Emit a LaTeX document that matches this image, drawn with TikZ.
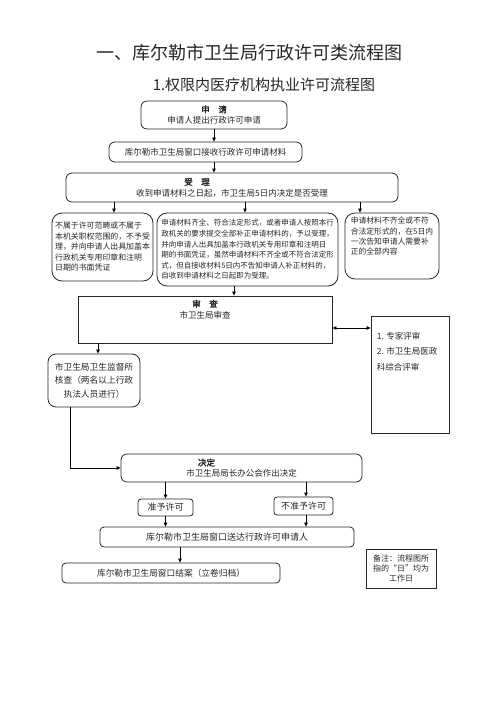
\documentclass[tikz,border=0pt]{standalone}
\usepackage{fontspec}
\setmainfont{Noto Sans CJK SC}[AutoFakeBold=2]
\usetikzlibrary{positioning,arrows.meta}

\begin{document}
\begin{tikzpicture}[x=1pt, y=-1pt,
    box/.style={rectangle, rounded corners=6pt, draw=black!85, line width=0.8pt, inner sep=1pt, align=center, text=black!85, font=\fontsize{8.5}{11}\selectfont},
    sbox/.style={box, sharp corners},
    tbox/.style={box, rounded corners=10pt, align=left},
    arrow/.style={-{Triangle[length=4pt, width=3.5pt]}, line width=0.8pt, draw=black}
]
    \useasboundingbox (0,0) rectangle (496,702);

    % Titles
    \node[font=\fontsize{18}{20}\selectfont, text=black!85] (title) at (249,53) {一、库尔勒市卫生局行政许可类流程图};
    \node[font=\fontsize{15}{17}\selectfont, text=black!85] (subtitle) at (264,85) {1.权限内医疗机构执业许可流程图};

    % Nodes
    \node[box, minimum width=146, minimum height=28] (apply) at (214,115) {\textbf{申\quad 请}\\申请人提出行政许可申请};
    \node[box, minimum width=193, minimum height=20] (window) at (205.5,152) {库尔勒市卫生局窗口接收行政许可申请材料};
    \node[box, minimum width=332, minimum height=29] (accept) at (232,187.5) {\textbf{受\quad 理}\hspace*{70pt}\\收到申请材料之日起，市卫生局5日内决定是否受理};
    \node[tbox, minimum width=101, minimum height=68, font=\fontsize{7.9}{10.5}\selectfont] (reject) at (102.5,247) {不属于许可范畴或不属于\\本机关职权范围的，不予受\\理，并向申请人出具加盖本\\行政机关专用印章和注明\\日期的书面凭证};
    \node[tbox, minimum width=181, minimum height=73, font=\fontsize{7.5}{10.6}\selectfont] (accepted) at (247.5,249.5) {申请材料齐全、符合法定形式，或者申请人按照本行\\政机关的要求提交全部补正申请材料的，予以受理，\\并向申请人出具加盖本行政机关专用印章和注明日\\期的书面凭证，虽然申请材料不齐全或不符合法定形\\式，但自接收材料5日内不告知申请人补正材料的，\\自收到申请材料之日起即为受理。};
    \node[tbox, minimum width=94, minimum height=66, font=\fontsize{7.8}{10.3}\selectfont] (supplement) at (392,246) {申请材料不齐全或不符\\合法定形式的，在5日内\\一次告知申请人需要补\\正的全部内容\\[10pt]};
    \node[sbox, minimum width=254, minimum height=47] (review) at (205,319.5) {};
    \node[anchor=north, align=center, inner sep=1pt, text=black!85, font=\fontsize{8.5}{11}\selectfont] (reviewtext) at ([yshift=-3pt]review.north) {\textbf{审\quad 查}\\市卫生局审查};
    \node[sbox, minimum width=78, minimum height=117] (expert) at (410,374.5) {};
    \node[anchor=north west, align=left, inner sep=1pt, text=black!85, font=\fontsize{8.5}{15.5}\selectfont] (experttext) at ([xshift=5pt, yshift=-15pt]expert.north west) {1. 专家评审\\2. 市卫生局医政\\科综合评审};
    \node[box, rounded corners=8pt, minimum width=92, minimum height=53, font=\fontsize{8.7}{13.5}\selectfont] (inspect) at (94,380.5) {市卫生局卫生监督所\\核查（两名以上行政\\执法人员进行）};
    \node[box, minimum width=241, minimum height=28] (decide) at (241.5,468) {\textbf{决定}\hspace*{70pt}\\市卫生局局长办公会作出决定};
    \node[box, rounded corners=3pt, minimum width=55, minimum height=17, font=\fontsize{9}{11}\selectfont] (grant) at (165.5,507.5) {准予许可};
    \node[box, rounded corners=3pt, minimum width=59, minimum height=18, font=\fontsize{9}{11}\selectfont] (deny) at (303.5,506) {不准予许可};
    \node[box, rounded corners=4pt, minimum width=254, minimum height=20, font=\fontsize{9}{11}\selectfont] (deliver) at (227,537) {库尔勒市卫生局窗口送达行政许可申请人};
    \node[box, rounded corners=4pt, minimum width=218, minimum height=20, font=\fontsize{8.7}{11}\selectfont] (close) at (171,573) {库尔勒市卫生局窗口结案（立卷归档）};
    \node[sbox, minimum width=70, minimum height=39, font=\fontsize{8}{9.7}\selectfont] (note) at (401,568.5) {备注：流程图所\\指的“日”均为\\工作日};

    % Arrows
    \draw[arrow] (apply.south) -- (apply.south |- window.north);
    \draw[arrow] (apply.south |- window.south) -- (apply.south |- accept.north);
    \draw[arrow] ([xshift=11.5pt]reject.north |- accept.south) -- ([xshift=11.5pt]reject.north);
    \draw[arrow] ([xshift=-2.5pt]accepted.north |- accept.south) -- ([xshift=-2.5pt]accepted.north);
    \draw[arrow] ([xshift=-32pt]supplement.north |- accept.south) -- ([xshift=-32pt]supplement.north);
    \draw[arrow] ([xshift=-13.5pt]accepted.south) -- ([xshift=-13.5pt]accepted.south |- review.north);
    \draw[arrow, {Triangle[length=4pt, width=3.5pt]}-{Triangle[length=4pt, width=3.5pt]}] ([yshift=-8.5pt]review.east) -- ([yshift=-8.5pt]review.east -| expert.west);
    \draw[arrow] ([xshift=4pt]inspect.north |- review.south) -- ([xshift=4pt]inspect.north);
    \draw[arrow] ([xshift=-24pt]inspect.south) |- (decide.west);
    \draw[arrow] (grant.north |- decide.south) -- (grant.north);
    \draw[arrow] ([xshift=2.5pt]deny.north |- decide.south) -- ([xshift=2.5pt]deny.north);
    \draw[arrow] (grant.south) -- (grant.south |- deliver.north);
    \draw[arrow] ([xshift=2.5pt]deny.south) -- ([xshift=2.5pt]deny.south |- deliver.north);
    \draw[arrow] ([xshift=9pt]close.north |- deliver.south) -- ([xshift=9pt]close.north);
\end{tikzpicture}
\end{document}
